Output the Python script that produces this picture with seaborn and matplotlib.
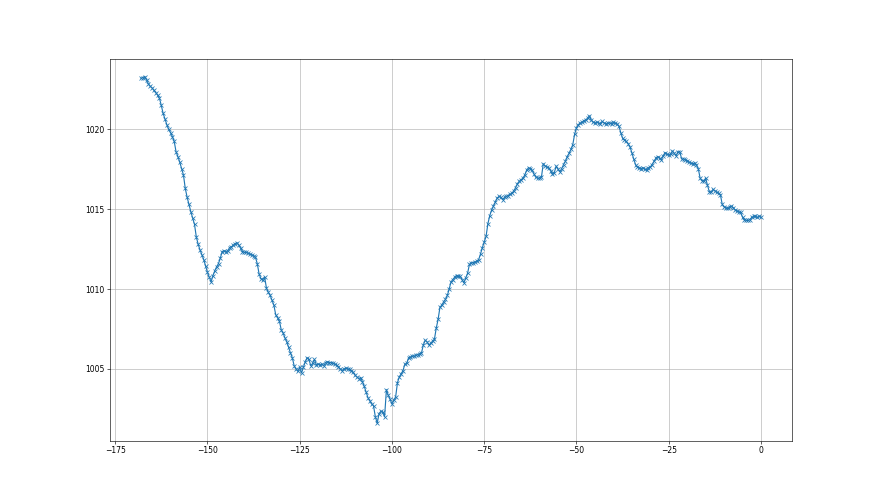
import numpy as np
import matplotlib
matplotlib.use("Agg")
import matplotlib.pyplot as plt
import seaborn as sns

# pressure readings every half hour, oldest first, last one at hour 0
pressure = [
    1023.2, 1023.25, 1023.3, 1023.1, 1022.85, 1022.7, 1022.6, 1022.45, 1022.3, 1022.15,
    1021.95, 1021.5, 1021.0, 1020.65, 1020.3, 1020.0, 1019.8, 1019.55, 1019.25, 1018.6,
    1018.3, 1017.95, 1017.55, 1017.15, 1016.3, 1015.75, 1015.3, 1014.85, 1014.45, 1014.05,
    1013.25, 1012.8, 1012.45, 1012.15, 1011.85, 1011.45, 1011.05, 1010.75, 1010.45, 1010.85,
    1011.15, 1011.4, 1011.6, 1011.95, 1012.35, 1012.4, 1012.35, 1012.4, 1012.6, 1012.65,
    1012.75, 1012.85, 1012.9, 1012.75, 1012.55, 1012.35, 1012.3, 1012.3, 1012.25, 1012.2,
    1012.15, 1012.1, 1012.0, 1011.6, 1010.95, 1010.65, 1010.6, 1010.75, 1010.05, 1009.8,
    1009.6, 1009.3, 1009.0, 1008.4, 1008.2, 1008.0, 1007.45, 1007.25, 1006.95, 1006.7,
    1006.35, 1006.0, 1005.7, 1005.2, 1005.0, 1004.85, 1005.1, 1004.75, 1005.1, 1005.45,
    1005.7, 1005.6, 1005.2, 1005.35, 1005.6, 1005.25, 1005.3, 1005.25, 1005.3, 1005.2,
    1005.4, 1005.45, 1005.4, 1005.4, 1005.35, 1005.3, 1005.25, 1005.1, 1005.0, 1004.9,
    1005.0, 1005.05, 1005.0, 1005.0, 1004.85, 1004.8, 1004.6, 1004.5, 1004.4, 1004.45,
    1004.2, 1003.9, 1003.55, 1003.2, 1003.0, 1002.8, 1002.7, 1002.0, 1001.6, 1002.2,
    1002.35, 1002.3, 1002.0, 1003.7, 1003.35, 1003.1, 1002.8, 1003.05, 1003.25, 1004.15,
    1004.5, 1004.7, 1004.9, 1005.3, 1005.35, 1005.7, 1005.75, 1005.8, 1005.8, 1005.85,
    1005.9, 1005.95, 1006.0, 1006.5, 1006.8, 1006.7, 1006.5, 1006.6, 1006.75, 1006.85,
    1007.55, 1008.1, 1008.85, 1009.0, 1009.2, 1009.35, 1009.6, 1010.0, 1010.45, 1010.6,
    1010.75, 1010.85, 1010.8, 1010.8, 1010.6, 1010.4, 1010.7, 1011.0, 1011.55, 1011.65,
    1011.65, 1011.7, 1011.75, 1011.85, 1012.2, 1012.6, 1012.95, 1013.3, 1014.1, 1014.6,
    1014.95, 1015.2, 1015.45, 1015.7, 1015.8, 1015.75, 1015.6, 1015.75, 1015.8, 1015.85,
    1015.95, 1016.0, 1016.15, 1016.35, 1016.6, 1016.75, 1016.85, 1016.95, 1017.15, 1017.45,
    1017.6, 1017.55, 1017.45, 1017.2, 1017.0, 1016.95, 1016.95, 1017.0, 1017.85, 1017.7,
    1017.65, 1017.6, 1017.4, 1017.2, 1017.3, 1017.7, 1017.5, 1017.35, 1017.55, 1017.8,
    1018.0, 1018.3, 1018.5, 1018.75, 1019.05, 1019.7, 1020.1, 1020.3, 1020.4, 1020.45,
    1020.55, 1020.6, 1020.7, 1020.85, 1020.6, 1020.45, 1020.4, 1020.45, 1020.4, 1020.35,
    1020.5, 1020.4, 1020.35, 1020.4, 1020.4, 1020.35, 1020.45, 1020.4, 1020.35, 1020.2,
    1019.8, 1019.45, 1019.35, 1019.25, 1019.1, 1018.9, 1018.55, 1018.15, 1017.8, 1017.65,
    1017.6, 1017.55, 1017.6, 1017.5, 1017.45, 1017.6, 1017.65, 1017.8, 1018.0, 1018.2,
    1018.3, 1018.2, 1018.1, 1018.35, 1018.55, 1018.45, 1018.4, 1018.45, 1018.65, 1018.5,
    1018.35, 1018.6, 1018.6, 1018.15, 1018.15, 1018.1, 1018.05, 1017.95, 1017.9, 1017.85,
    1017.9, 1017.75, 1017.55, 1016.95, 1016.8, 1016.75, 1016.95, 1016.5, 1016.1, 1016.05,
    1016.25, 1016.15, 1016.05, 1016.0, 1015.9, 1015.3, 1015.15, 1015.1, 1015.05, 1015.15,
    1015.2, 1015.1, 1014.95, 1014.9, 1014.85, 1014.8, 1014.5, 1014.35, 1014.3, 1014.3,
    1014.35, 1014.5, 1014.55, 1014.55, 1014.5, 1014.55, 1014.5,
]
# hours before now, half-hour steps ending at 0
hours = -0.5 * np.arange(len(pressure))[::-1]

fig, ax = plt.subplots(figsize=(16, 9), dpi=55)
sns.lineplot(x=hours, y=pressure, ax=ax, color="#1f77b4", marker="x",
             markersize=6, markeredgecolor="#1f77b4", markeredgewidth=1,
             linewidth=1.5)
ax.grid(True)

fig.savefig("out.png", dpi=55)
